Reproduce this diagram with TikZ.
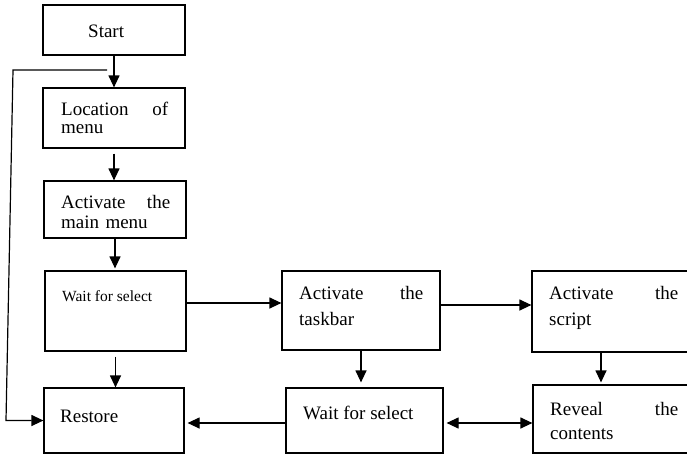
\documentclass[tikz,border=0pt]{standalone}
\usepackage{fontspec}
\setmainfont{Liberation Serif}
\usetikzlibrary{arrows.meta}
\begin{document}
\begin{tikzpicture}[x=1pt,y=-1pt,
  box/.style={draw, line width=1.2pt, inner sep=0pt},
  txt/.style={inner sep=0pt, align=left, anchor=base west, font=\fontsize{19}{18}\selectfont},
  tip/.tip={Triangle[length=12pt,width=11pt]},
  flow/.style={line width=1.2pt, -tip},
]
\useasboundingbox (0,0) rectangle (687,455);

% boxes
\node[box, minimum width=142, minimum height=50] (start)   at (114,30) {};
\node[box, minimum width=142, minimum height=60] (loc)     at (114,118) {};
\node[box, minimum width=142, minimum height=57] (act)     at (115,209.5) {};
\node[box, minimum width=141, minimum height=80] (waitL)   at (115.5,311) {};
\node[box, minimum width=140, minimum height=65] (restore) at (114,420.5) {};
\node[box, minimum width=158, minimum height=79] (task)    at (361,310.5) {};
\node[box, minimum width=157, minimum height=65] (waitM)   at (364.5,420.5) {};
\node[box, minimum width=163, minimum height=81] (script)  at (613.5,311.5) {};
\node[box, minimum width=162, minimum height=68] (reveal)  at (614,419) {};

% box texts
\node[txt] (startT) at (88,37) {Start};
\node[txt, text width=107] (locT) at (61,115) {Location\hfill of\\menu};
\node[txt, text width=109, font=\fontsize{19}{20}\selectfont] (actT) at (61,208) {Activate\hfill the\\main menu};
\node[txt, font=\fontsize{15.5}{16}\selectfont] (waitLT) at (62,301) {Wait for select};
\node[txt] (restoreT) at (60,422) {Restore};
\node[txt, text width=124, font=\fontsize{19}{26}\selectfont] (taskT) at (299,299) {Activate\hfill the\\taskbar};
\node[txt] (waitMT) at (303,419) {Wait for select};
\node[txt, text width=129, font=\fontsize{19}{26}\selectfont] (scriptT) at (549,299) {Activate\hfill the\\script};
\node[txt, text width=128, font=\fontsize{19}{24}\selectfont] (revealT) at (550,415) {Reveal\hfill the\\contents};

% connectors
\draw[flow] (start) -- (loc);
\draw[flow, shorten <=5pt] (loc.south) -- (loc.south |- act.north);
\draw[flow, shorten >=2pt] (act.south) -- (act.south |- waitL.north);
\draw[flow, shorten <=5pt] (waitL.south) -- (waitL.south |- restore.north);
\draw[flow] ([yshift=8pt]waitL.east) -- ([yshift=8pt]waitL.east -| task.west);
\draw[flow] ([yshift=5.5pt]task.east) -- ([yshift=5.5pt]task.east -| script.west);
\draw[flow, shorten >=5pt] (task.south) -- (task.south |- waitM.north);
\draw[flow, shorten >=2pt] ([xshift=-12.5pt]script.south) -- ([xshift=-12.5pt]script.south |- reveal.north);
\draw[flow, shorten >=3pt] ([yshift=-2.5pt]waitM.west) -- ([yshift=-2.5pt]waitM.west -| restore.east);
\draw[flow, tip-tip, shorten <=3pt] ([yshift=-2.5pt]waitM.east) -- ([yshift=-2.5pt]waitM.east -| reveal.west);

% return path into Restore
\coordinate (fb) at (107,70);
\draw[flow] (fb) -- (13,70) -- (6,420.5) -- (restore.west);
\end{tikzpicture}
\end{document}
